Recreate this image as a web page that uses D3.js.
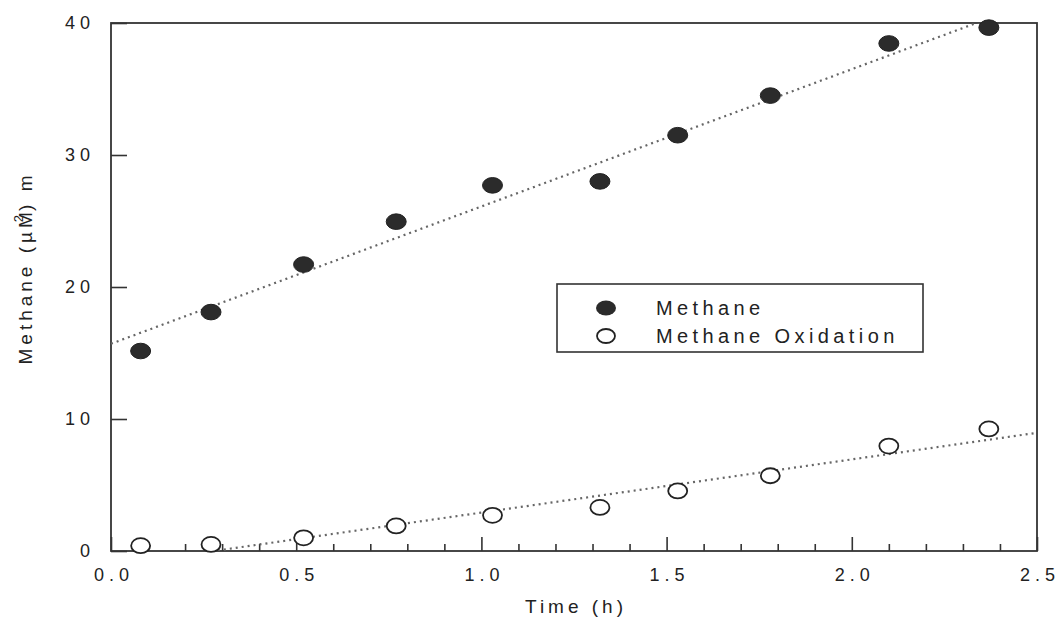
<!DOCTYPE html>
<html>
<head>
<meta charset="utf-8">
<script src="https://cdn.jsdelivr.net/npm/d3@7"></script>
<style>
  html, body { margin: 0; padding: 0; background: #fff; }
  svg { display: block; }
  text { font-family: "Liberation Sans", Arial, Helvetica, sans-serif; fill: #222; }
</style>
</head>
<body>
<svg id="chart" width="1057" height="618"></svg>
<script>
// Sampling times (h)
const times = [0.08, 0.27, 0.52, 0.77, 1.03, 1.32, 1.53, 1.78, 2.10, 2.37];
// Methane concentration
const methane = [15.15, 18.1, 21.7, 24.95, 27.7, 28.0, 31.5, 34.5, 38.45, 39.65];
// Methane oxidation
const oxidation = [0.4, 0.5, 1.0, 1.9, 2.7, 3.3, 4.55, 5.7, 7.95, 9.25];
// Linear trend lines: [intercept, slope]
const methaneTrend = [15.7, 10.4];
const oxidationTrend = [-1.12, 4.03];
// Axis ticks
const xMajorTicks = [0, 0.5, 1.0, 1.5, 2.0, 2.5];
const xMinorTicks = [0.1, 0.2, 0.3, 0.4, 0.6, 0.7, 0.8, 0.9, 1.1, 1.2, 1.3, 1.4,
                     1.6, 1.7, 1.8, 1.9, 2.1, 2.2, 2.3, 2.4];
const yTicks = [0, 10, 20, 30, 40];
const legendLabels = ["Methane", "Methane Oxidation"];

const svg = d3.select("#chart");
const margin = { left: 111, right: 1037, top: 23, bottom: 551 };

const x = d3.scaleLinear().domain([0, 2.5]).range([margin.left, margin.right]);
const y = d3.scaleLinear().domain([0, 40]).range([margin.bottom, margin.top]);

const ink = "#333";

// Spread the characters of a label apart with per-glyph tspans
// (no trailing gap, unlike CSS letter-spacing).
function spreadChars(sel, gap) {
  sel.each(function () {
    const t = d3.select(this);
    const s = t.text();
    t.text(null);
    Array.from(s).forEach((ch, i) => {
      t.append("tspan").attr("dx", i === 0 ? 0 : gap).text(ch);
    });
  });
}

// clip region for trend lines
svg.append("defs").append("clipPath").attr("id", "plotClip")
  .append("rect")
  .attr("x", x(0)).attr("y", y(40))
  .attr("width", x(2.5) - x(0)).attr("height", y(0) - y(40));

// minor x ticks (inward)
svg.append("g")
  .attr("transform", `translate(0,${y(0)})`)
  .call(d3.axisBottom(x).tickValues(xMinorTicks).tickSizeInner(-7).tickSizeOuter(0).tickFormat(""))
  .call(g => g.select(".domain").remove())
  .call(g => g.selectAll("line").attr("stroke", ink).attr("stroke-width", 1.6));

// major x ticks with labels
svg.append("g")
  .attr("transform", `translate(0,${y(0)})`)
  .call(d3.axisBottom(x).tickValues(xMajorTicks).tickSizeInner(-14).tickSizeOuter(0)
    .tickPadding(17).tickFormat(d3.format(".1f")))
  .call(g => g.select(".domain").remove())
  .call(g => g.selectAll("line").attr("stroke", ink).attr("stroke-width", 1.6))
  .call(g => g.selectAll("text")
    .attr("font-size", 18).attr("fill", "#222")
    .call(spreadChars, 5));

// y ticks with labels
svg.append("g")
  .attr("transform", `translate(${x(0)},0)`)
  .call(d3.axisLeft(y).tickValues(yTicks).tickSizeInner(-16).tickSizeOuter(0)
    .tickPadding(21).tickFormat(d3.format("d")))
  .call(g => g.select(".domain").remove())
  .call(g => g.selectAll("line").attr("stroke", ink).attr("stroke-width", 1.6))
  .call(g => g.selectAll("text")
    .attr("font-size", 18).attr("fill", "#222")
    .call(spreadChars, 5));

// plot frame
svg.append("rect")
  .attr("x", x(0)).attr("y", y(40))
  .attr("width", x(2.5) - x(0)).attr("height", y(0) - y(40))
  .attr("fill", "none").attr("stroke", ink).attr("stroke-width", 1.8);

// dotted trend lines
function trendLine(coef) {
  const xs = [0, 2.5];
  return d3.line().x(d => x(d)).y(d => y(coef[0] + coef[1] * d))(xs);
}
const trendGroup = svg.append("g").attr("clip-path", "url(#plotClip)");
[methaneTrend, oxidationTrend].forEach(coef => {
  trendGroup.append("path")
    .attr("d", trendLine(coef))
    .attr("fill", "none")
    .attr("stroke", "#666")
    .attr("stroke-width", 2.2)
    .attr("stroke-dasharray", "2,4");
});

// data points
const methanePts = times.map((t, i) => ({ t, v: methane[i] }));
const oxidationPts = times.map((t, i) => ({ t, v: oxidation[i] }));

svg.append("g").selectAll("ellipse").data(oxidationPts).join("ellipse")
  .attr("cx", d => x(d.t)).attr("cy", d => y(d.v))
  .attr("rx", 9.5).attr("ry", 7.5)
  .attr("fill", "#fff").attr("stroke", "#222").attr("stroke-width", 1.8);

svg.append("g").selectAll("ellipse").data(methanePts).join("ellipse")
  .attr("cx", d => x(d.t)).attr("cy", d => y(d.v))
  .attr("rx", 10).attr("ry", 7.8)
  .attr("fill", "#2b2b2b").attr("stroke", "#222").attr("stroke-width", 1);

// legend
const legend = svg.append("g");
legend.append("rect")
  .attr("x", 557).attr("y", 284).attr("width", 366).attr("height", 68)
  .attr("fill", "#fff").attr("stroke", ink).attr("stroke-width", 1.6);
legend.append("ellipse")
  .attr("cx", 606).attr("cy", 308).attr("rx", 10).attr("ry", 7.5)
  .attr("fill", "#2b2b2b");
legend.append("ellipse")
  .attr("cx", 606).attr("cy", 336).attr("rx", 9).attr("ry", 7)
  .attr("fill", "#fff").attr("stroke", "#222").attr("stroke-width", 1.8);
legend.selectAll("text.lg").data(legendLabels).join("text")
  .attr("class", "lg")
  .attr("x", 656).attr("y", (d, i) => 315 + i * 28)
  .attr("font-size", 20).attr("letter-spacing", 4.4)
  .text(d => d);

// x-axis title
svg.append("text")
  .attr("x", 574 + 2).attr("y", 613)
  .attr("text-anchor", "middle")
  .attr("font-size", 19).attr("letter-spacing", 4)
  .text("Time (h)");

// y-axis title
const yTitle = svg.append("text")
  .attr("transform", "translate(32,268) rotate(-90)")
  .attr("text-anchor", "middle")
  .attr("font-size", 19).attr("letter-spacing", 4);
yTitle.append("tspan").text("Methane (µM");
yTitle.append("tspan").attr("font-size", 13).attr("dx", -14).attr("dy", -9).text("2");
yTitle.append("tspan").attr("dy", 9).text(") m");
</script>
</body>
</html>
